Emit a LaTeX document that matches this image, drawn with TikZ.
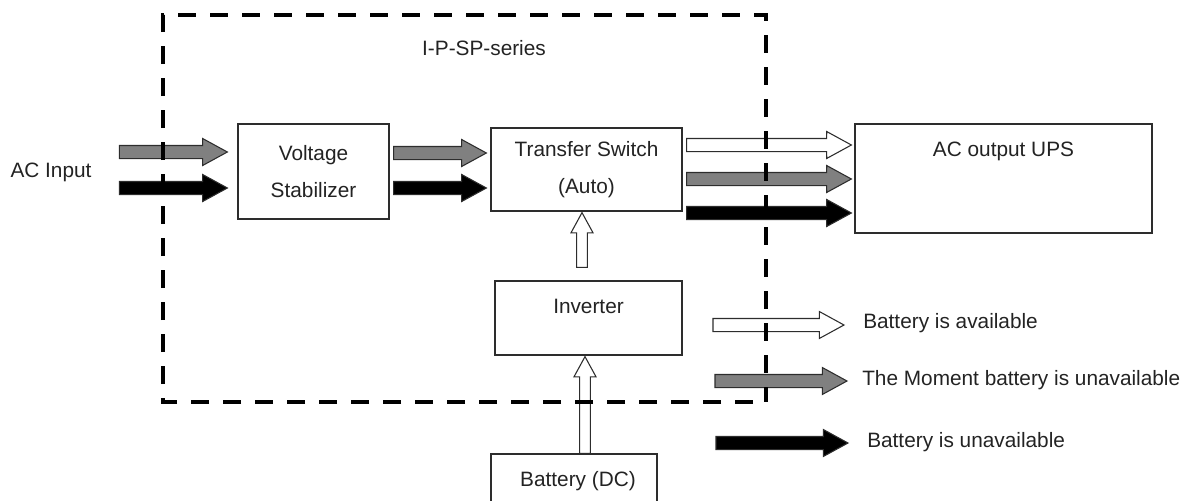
\documentclass[tikz,border=0pt]{standalone}
\usepackage{fontspec}
\setmainfont{Liberation Sans}
\usetikzlibrary{calc}
\definecolor{linegrey}{RGB}{45,45,45}
\definecolor{textgrey}{RGB}{35,35,35}
\definecolor{flowgrey}{RGB}{128,128,128}

% block arrow from #3 to #4, filled with #2, #1 scales its width
\newcommand{\blockarrow}[4][1]{%
  \path (#3) coordinate (ba-s) (#4) coordinate (ba-t);
  \pgfmathsetmacro{\arwS}{4.9*#1}%
  \pgfmathsetmacro{\arwH}{10.1*#1}%
  \pgfmathsetmacro{\arwL}{18.5*#1}%
  \pgfmathsetmacro{\arwRa}{veclen(\arwL,\arwS)}%
  \pgfmathsetmacro{\arwAa}{atan2(\arwS,\arwL)}%
  \pgfmathsetmacro{\arwRb}{veclen(\arwL,\arwH)}%
  \pgfmathsetmacro{\arwAb}{atan2(\arwH,\arwL)}%
  \draw[arrowline,fill=#2] ($(ba-s)!\arwS pt!90:(ba-t)$)
    -- ($(ba-t)!\arwRa pt!-\arwAa:(ba-s)$) -- ($(ba-t)!\arwRb pt!-\arwAb:(ba-s)$)
    -- (ba-t)
    -- ($(ba-t)!\arwRb pt!\arwAb:(ba-s)$) -- ($(ba-t)!\arwRa pt!\arwAa:(ba-s)$)
    -- ($(ba-s)!\arwS pt!-90:(ba-t)$) -- cycle;}

\tikzset{
  box/.style={draw=linegrey, line width=0.95pt, fill=white, inner sep=0pt, align=center,
    text=textgrey, font=\fontsize{15.6}{27.5}\selectfont},
  txt/.style={text=textgrey, inner sep=0pt, font=\fontsize{15.6}{18.7}\selectfont},
  arrowline/.style={draw=linegrey, line width=0.8pt, line join=miter},
  frame/.style={draw=black, line width=2.7pt, dash pattern=on 13.5pt off 10.5pt}
}

\begin{document}
\begin{tikzpicture}[x=0.75pt,y=-0.75pt]
\useasboundingbox (0,0) rectangle (1181,500);

\node[txt] (series) at (484,48) {I-P-SP-series};

% blocks
\node[txt] (acin) at (51,172) {AC Input};
\node[box, minimum width=113.25pt, minimum height=71.25pt] (vs) at (313.5,171.5) {Voltage\\Stabilizer};
\node[box, minimum width=143.25pt, minimum height=62.25pt] (ts) at (586.5,169.5) {Transfer Switch\\(Auto)};
\node[box, minimum width=222.75pt, minimum height=81.75pt] (out) at (1003.5,178.5) {};
\node[txt] (out-t) at ($(out.north)+(0,28)$) {AC output UPS};
\node[box, minimum width=140.25pt, minimum height=55.5pt] (inv) at (588.5,318) {};
\node[txt] (inv-t) at ($(inv.north)+(0,26)$) {Inverter};
\node[box, minimum width=124.5pt, minimum height=40.5pt] (bat) at (574,481) {\hspace*{6pt}Battery (DC)};

% power flow
\blockarrow{flowgrey}{$(vs.west)+(-118,-19.5)$}{$(vs.west)+(-10,-19.5)$}
\blockarrow{black}{$(vs.west)+(-118,16.5)$}{$(vs.west)+(-10,16.5)$}
\blockarrow{flowgrey}{$(vs.east)+(4,-18.5)$}{$(ts.west)+(-4,-16.5)$}
\blockarrow{black}{$(vs.east)+(4,16.5)$}{$(ts.west)+(-4,18.5)$}
\blockarrow{white}{$(ts.east)+(4,-24.5)$}{$(out.west)+(-3,-33.5)$}
\blockarrow{flowgrey}{$(ts.east)+(4,9.5)$}{$(out.west)+(-3,0.5)$}
\blockarrow{black}{$(ts.east)+(4,43.5)$}{$(out.west)+(-3,34.5)$}
\blockarrow[0.82]{white}{$(bat.north)+(11,0)$}{$(inv.south)+(-3.5,1)$}
\blockarrow[0.82]{white}{$(inv.north)+(-6.5,-13)$}{$(ts.south)+(-4.5,1)$}

% legend
\node[txt, anchor=west] (leg1) at (863,323) {Battery is available};
\node[txt, anchor=west] (leg2) at (862,380) {The Moment battery is unavailable};
\node[txt, anchor=west] (leg3) at (867,442) {Battery is unavailable};
\blockarrow{white}{$(leg1.west)+(-150,2)$}{$(leg1.west)+(-19,2)$}
\blockarrow{flowgrey}{$(leg2.west)+(-147,1)$}{$(leg2.west)+(-15,1)$}
\blockarrow{black}{$(leg3.west)+(-151,1)$}{$(leg3.west)+(-19,1)$}

% dashed frame of the unit, over the arrows
\draw[frame] (753,402) -- (163,402) -- (163,15) -- (766,15) -- (766,402);
\end{tikzpicture}
\end{document}
